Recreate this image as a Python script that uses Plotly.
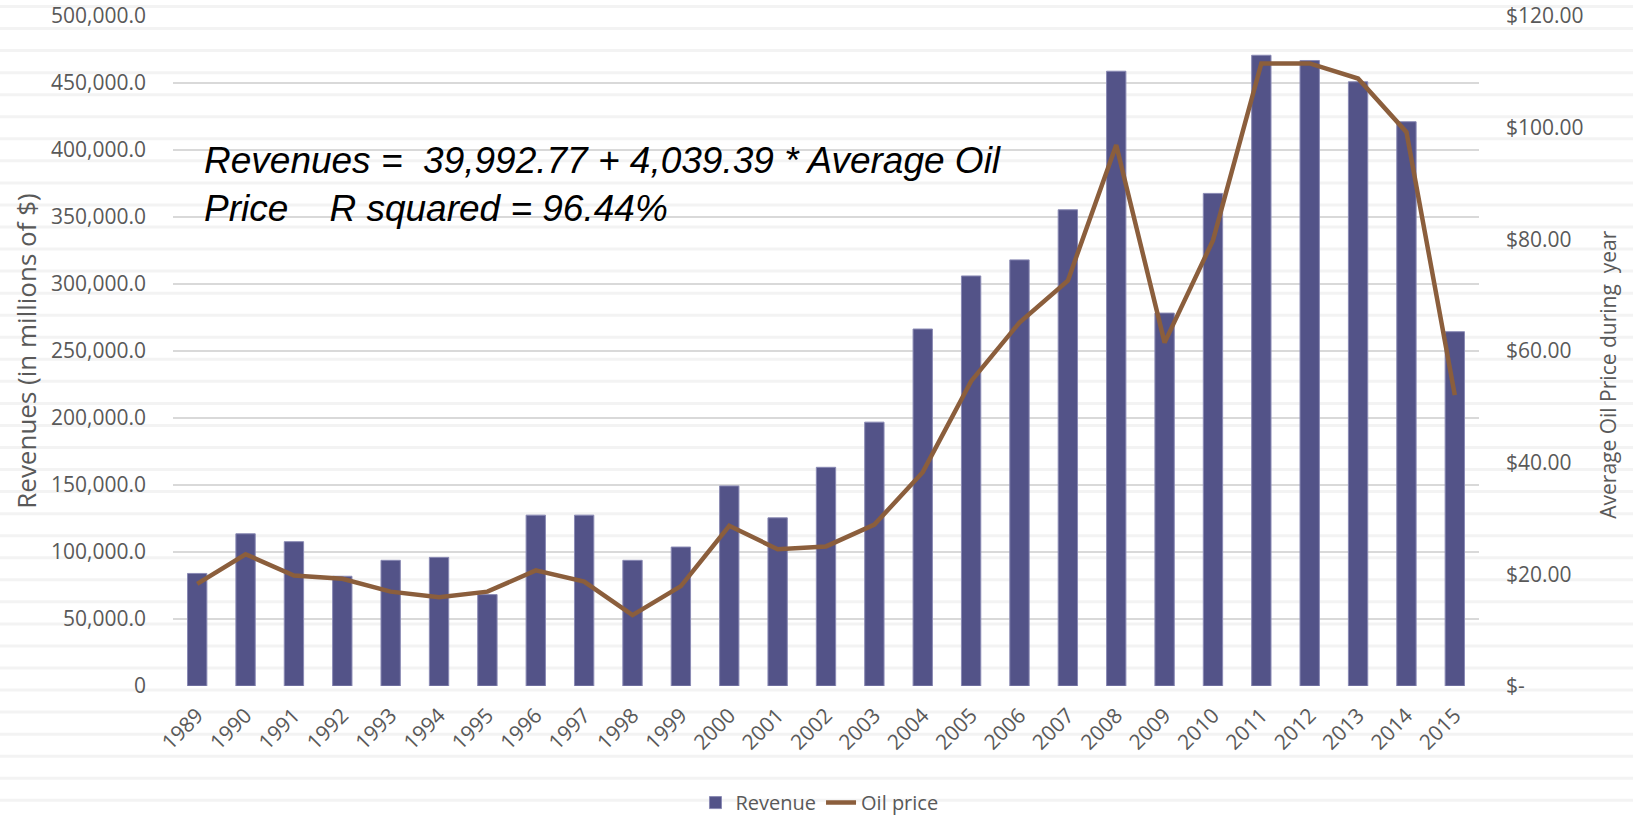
import plotly.graph_objects as go

years = [str(y) for y in range(1989, 2016)]
revenue = [84000, 113600, 107700, 81900, 93800, 96000, 68200, 127500, 127500, 93800,
           103700, 149300, 125500, 163200, 196900, 266400, 306000, 318000, 355400, 458800,
           278300, 367600, 470700, 466800, 450900, 421100, 264400]
oil_price = [18.3, 23.6, 19.8, 19.2, 16.9, 15.9, 16.9, 20.7, 18.7, 12.7,
             17.9, 28.7, 24.5, 25.0, 28.9, 38.3, 54.6, 65.1, 72.6, 96.9,
             61.5, 79.8, 111.5, 111.5, 108.8, 99.2, 52.1]

left_ticks = [0, 50000, 100000, 150000, 200000, 250000, 300000, 350000, 400000, 450000, 500000]
left_labels = ["0", "50,000.0", "100,000.0", "150,000.0", "200,000.0", "250,000.0",
               "300,000.0", "350,000.0", "400,000.0", "450,000.0", "500,000.0"]
right_ticks = [0, 20, 40, 60, 80, 100, 120]
right_labels = ["$-", "$20.00", "$40.00", "$60.00", "$80.00", "$100.00", "$120.00"]

W, H = 1633, 818
M_L, M_R, M_T, M_B = 173, 154, 16, 132
TXT = "#595959"
FONT = "Open Sans"

fig = go.Figure()
fig.add_trace(go.Bar(
    x=years, y=revenue, name="Revenue",
    marker=dict(color="#535388", line=dict(color="#8a8ab4", width=1)),
    yaxis="y",
))
fig.add_trace(go.Scatter(
    x=years, y=oil_price, name="Oil price", mode="lines",
    line=dict(color="#8b5e3c", width=4.5),
    yaxis="y2",
))

# faint horizontal banding across the whole page
plot_h = H - M_T - M_B
plot_w = W - M_L - M_R
shapes = []
yy = 6.5
while yy < H:
    py = (H - M_B - yy) / plot_h
    shapes.append(dict(type="line", xref="paper", yref="paper",
                       x0=-M_L / plot_w, x1=1 + M_R / plot_w,
                       y0=py, y1=py, line=dict(color="#f3f3f3", width=3), layer="below"))
    yy += 22.05

fig.update_layout(
    width=W, height=H,
    margin=dict(l=M_L, r=M_R, t=M_T, b=M_B, autoexpand=False),
    paper_bgcolor="white", plot_bgcolor="rgba(0,0,0,0)",
    font=dict(family=FONT, color=TXT, size=20),
    bargap=0.6,
    showlegend=True,
    legend=dict(orientation="h", x=0.495, xanchor="center", y=-0.174, yanchor="middle",
                font=dict(size=20, color=TXT), bgcolor="rgba(0,0,0,0)"),
    xaxis=dict(type="category", tickangle=-45, showgrid=False, zeroline=False,
               showline=False, ticks="", tickfont=dict(size=21, color=TXT),
               ticklabelstandoff=12, automargin=False),
    yaxis=dict(range=[0, 500000], tickvals=left_ticks, ticktext=left_labels,
               showgrid=True, gridcolor="#d9d9d9", gridwidth=1.5, zeroline=False,
               showline=False, ticks="", tickfont=dict(size=21, color=TXT),
               ticklabelstandoff=26, ticklabeloverflow="allow", automargin=False,
               title=dict(text="Revenues (in millions of $)", font=dict(size=26, color=TXT),
                          standoff=6)),
    yaxis2=dict(range=[0, 120], tickvals=right_ticks, ticktext=right_labels,
                overlaying="y", side="right", showgrid=False, zeroline=False,
                showline=False, ticks="", tickfont=dict(size=21, color=TXT),
                ticklabelstandoff=26, ticklabeloverflow="allow", automargin=False),
    shapes=shapes,
    annotations=[
        dict(xref="paper", yref="paper", x=0.022, y=0.748, xanchor="left", yanchor="middle",
             align="left", showarrow=False,
             text="<i>Revenues =\u00a0\u00a039,992.77 + 4,039.39 * Average Oil<br>"
                  "Price\u00a0\u00a0\u00a0\u00a0R squared = 96.44%</i>",
             font=dict(family="Liberation Sans", size=37, color="black")),
        # secondary axis title, placed a little below the axis middle
        dict(xref="paper", yref="paper", x=1.099, y=0.465, xanchor="center", yanchor="middle",
             textangle=-90, showarrow=False,
             text="Average Oil Price during\u00a0\u00a0year",
             font=dict(family=FONT, size=21, color=TXT)),
    ],
)

fig.write_html("out.html")
